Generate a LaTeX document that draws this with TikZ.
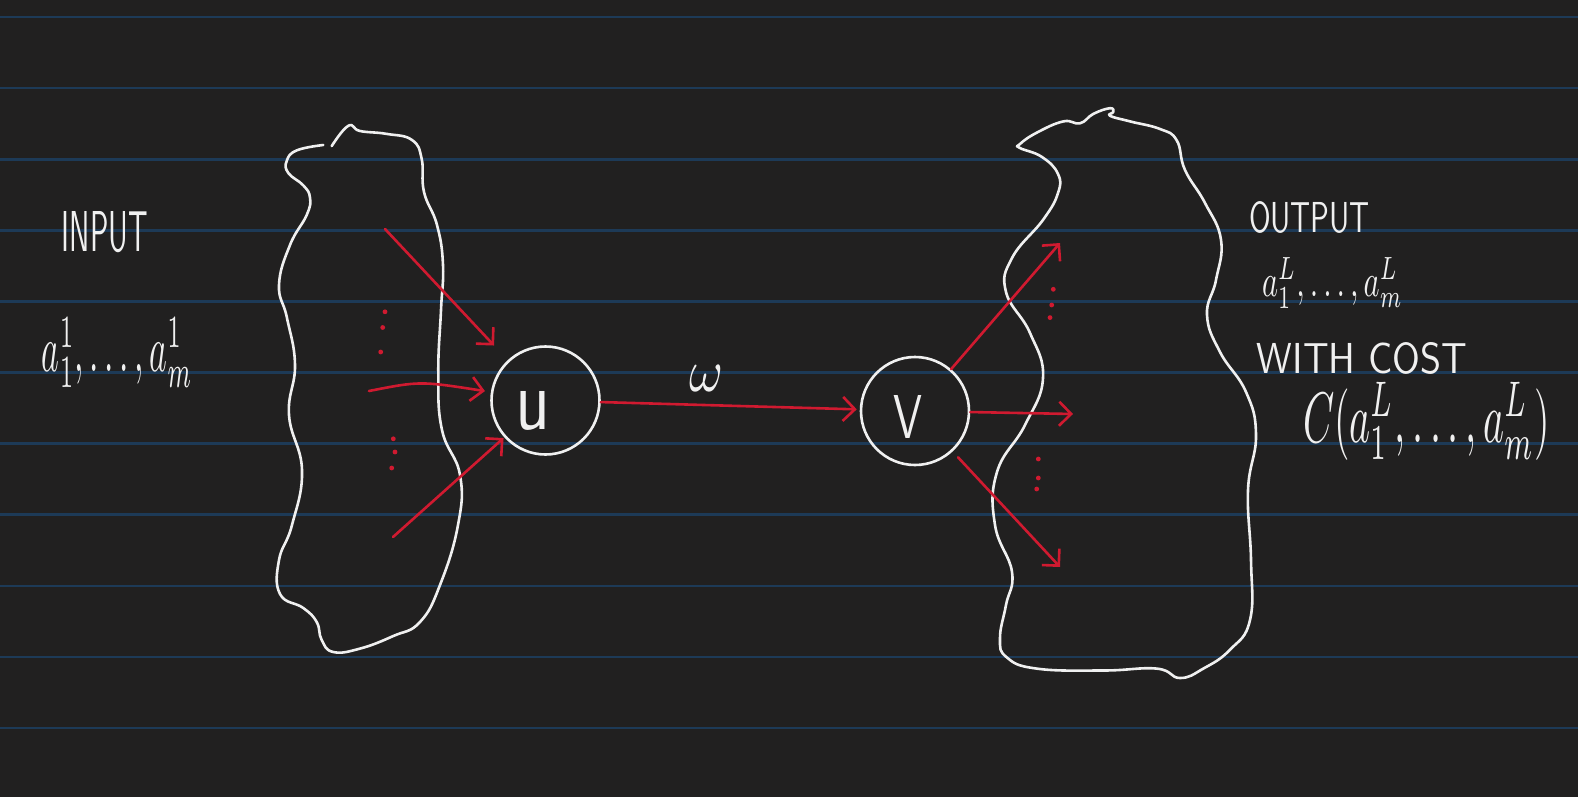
\documentclass[tikz,border=0pt]{standalone}
\usepackage{graphicx}
\usetikzlibrary{arrows.meta}
\definecolor{bg}{HTML}{212020}
\definecolor{ruleblue}{HTML}{1D3A57}
\definecolor{ink}{HTML}{F0F0F0}
\definecolor{pen}{HTML}{D01A30}
\tikzset{
  ruleline/.style={draw=ruleblue, line width=2.6pt},
  blob/.style={draw=ink, line width=2.6pt, line cap=round, line join=round},
  neuron/.style={circle, draw=ink, line width=2.6pt, minimum size=108pt, inner sep=0pt},
  hand/.style={text=ink, inner sep=0pt, font=\sffamily},
  wire/.style={draw=pen, line width=2.6pt, line cap=round,
    -{Straight Barb[length=12pt,width=24pt,line width=2.6pt]}},
  reddot/.style={fill=pen, draw=none},
}
\begin{document}
\begin{tikzpicture}[x=1pt,y=-1pt]
\useasboundingbox (0,0) rectangle (1578,797);
\fill[bg] (0,0) rectangle (1578,797);
\foreach \i in {0,...,10}
  \draw[ruleline] (0,{17+71.1*\i}) -- (1578,{17+71.1*\i});

% left blob (open at the top)
\draw[blob] plot[smooth, tension=0.75] coordinates {
 (331.7,146.1) (348.3,125.8) (360,131) (386.7,133.9) (412,140)
 (421.7,159) (424,192) (437,225) (443,265) (441,310)
 (438.3,373) (442,430) (460,475) (458,525)
 (440,585) (420,622) (393.3,636) (360,648.6) (333.3,652) (321.7,640)
 (316.7,622) (303.3,608) (280,594) (279,560) (292,525)
 (302,470) (289,415) (295,365) (287,318)
 (279,285) (290,245) (306.7,215) (310,197.7) (303.3,185.4) (288.3,173)
 (286.7,161) (296.7,150.4) (323.3,145)};

% right blob
\draw[blob] plot[smooth cycle, tension=0.75] coordinates {
 (1020,144) (1036.7,132.7) (1063.3,121.4) (1080,123.3) (1093.3,113.9)
 (1110,108.2) (1113.3,112) (1110,115.8) (1130,121.4) (1160,129) (1176.7,140.3)
 (1185,170) (1205,203) (1221,240) (1216,280)
 (1207,315) (1220,352) (1246,392) (1256,435)
 (1248,490) (1251,560) (1250,620)
 (1230,649.7) (1203.3,668.6) (1180,678) (1156.7,668.6) (1103.3,670.5)
 (1036.7,668.6) (1006.7,657.3) (1000,638.4) (1006,605)
 (1012,572) (995,525) (997,472) (1025,425)
 (1043,378) (1030,333) (1006,292)
 (1012,258) (1043.3,219.5) (1058,193) (1058,174)
 (1042,157) (1020,148)};

% neurons
\node[neuron] (u) at (545.5,400.5) {};
\node[neuron] (v) at (915,411) {};
\node[hand] (ulab) at (532.5,411) {\resizebox{35pt}{38pt}{u}};
\node[hand] (vlab) at (907.5,416.5) {\resizebox{29pt}{43pt}{V}};

% incoming wires
\coordinate (s1) at (385,229);
\coordinate (s2) at (369,391);
\coordinate (s3) at (393,537);
\draw[wire, shorten >=20pt] (s1) -- (u);
\draw[wire, shorten >=6pt] (s2) .. controls (420,381) .. (u);
\draw[wire, shorten >=1pt] (s3) -- (u);

% u -> v
\draw[wire, shorten >=3pt] (u) -- (v)
  node[hand, pos=0.41, above=12pt] (wlab) {\resizebox{34pt}{26pt}{$\omega$}};

% outgoing wires
\coordinate (t1) at (1060,243);
\coordinate (t2) at (1073,414);
\coordinate (t3) at (1060,567);
\draw[wire] (v) -- (t1);
\draw[wire] (v) -- (t2);
\draw[wire, shorten <=8pt] (v) -- (t3);

% dots
\foreach \p in {(385,311.8),(382.7,327.5),(380.7,352),
                (393.3,438.8),(395,452),(391.7,468),
                (1053.3,289.3),(1051.7,305),(1050,317.6),
                (1038.3,459),(1038.3,478),(1036.7,489)}
  \fill[reddot] \p circle[radius=2.4pt];

% texts
\node[hand] (input) at (105,232) {\resizebox{86pt}{40pt}{INPUT}};
\node[hand] (ain) at (117.5,352.5) {\resizebox*{151pt}{70pt}{$a^1_1,\ldots,a^1_m$}};
\node[hand] (output) at (1309.5,217.5) {\resizebox{121pt}{31pt}{OUTPUT}};
\node[hand] (aout) at (1332.5,283) {\resizebox*{141pt}{50pt}{$a^L_1,\ldots,a^L_m$}};
\node[hand] (withcost) at (1362,358) {\resizebox{210pt}{31pt}{WITH COST}};
\node[hand] (cost) at (1426.5,421) {\resizebox*{247pt}{78pt}{$C(a^L_1,\ldots,a^L_m)$}};
\end{tikzpicture}
\end{document}
